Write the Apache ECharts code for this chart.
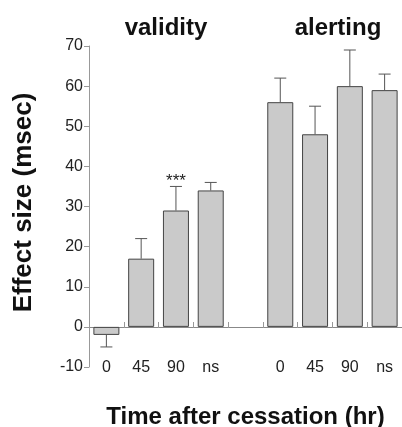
<!DOCTYPE html>
<html>
<head>
<meta charset="utf-8">
<script src="https://cdn.jsdelivr.net/npm/echarts@6/dist/echarts.min.js"></script>
<style>
  html, body { margin: 0; padding: 0; background: #fff; }
  #chart { width: 402px; height: 427px; }
</style>
</head>
<body>
<div id="chart"></div>
<script>
// slots: validity group, empty gap, alerting group
const categories = ['0', '45', '90', 'ns', '', '0', '45', '90', 'ns'];
const effect = [-2, 17, 29, 34, null, 56, 48, 60, 59];
const errorEnd = [-5, 22, 35, 36, null, 62, 55, 69, 63];
const marks = ['', '', '***', '', '', '', '', '', ''];
const yTicks = { min: -10, max: 70, step: 10 };

const chart = echarts.init(document.getElementById('chart'));
const font = 'Liberation Sans, Arial, sans-serif';

chart.setOption({
  animation: false,
  grid: { left: 89, right: 0, top: 46, bottom: 60, outerBoundsMode: 'none' },
  title: [
    { text: 'validity', left: 161, top: 11, textAlign: 'center',
      textStyle: { fontFamily: font, fontSize: 24, fontWeight: 'bold', color: '#111' } },
    { text: 'alerting', left: 333, top: 11, textAlign: 'center',
      textStyle: { fontFamily: font, fontSize: 24, fontWeight: 'bold', color: '#111' } }
  ],
  xAxis: [
    {
      type: 'category',
      data: categories,
      name: 'Time after cessation (hr)',
      nameLocation: 'middle',
      nameGap: 38,
      nameTextStyle: { fontFamily: font, fontSize: 24, fontWeight: 'bold', color: '#111' },
      axisLine: { onZero: true, lineStyle: { color: '#888', width: 1 } },
      axisTick: { show: false },
      axisLabel: { margin: -7, fontFamily: font, fontSize: 16, color: '#222' }
    },
    {
      // small upward ticks sitting on the zero line
      type: 'category',
      data: categories,
      position: 'bottom',
      offset: -39,
      axisLine: { show: false, onZero: false },
      axisTick: { show: true, inside: true, length: 6, lineStyle: { color: '#999', width: 1 } },
      axisLabel: { show: false }
    }
  ],
  yAxis: {
    type: 'value',
    min: yTicks.min,
    max: yTicks.max,
    interval: yTicks.step,
    name: 'Effect size (msec)',
    nameLocation: 'middle',
    nameGap: 52,
    nameTextStyle: { fontFamily: font, fontSize: 26, fontWeight: 'bold', color: '#111', padding: [0, 0, 0, 8] },
    axisLine: { show: true, lineStyle: { color: '#999', width: 1 } },
    axisTick: { show: true, length: 5, lineStyle: { color: '#999' } },
    axisLabel: { margin: 6, fontFamily: font, fontSize: 16, color: '#222' },
    splitLine: { show: false }
  },
  series: [
    {
      type: 'bar',
      data: effect,
      barWidth: 26,
      itemStyle: { color: '#cacaca', borderColor: '#444', borderWidth: 1 },
      label: {
        show: true,
        position: 'top',
        formatter: p => marks[p.dataIndex],
        fontFamily: font, fontSize: 17, color: '#222',
        offset: [0, -16]
      }
    },
    {
      type: 'custom',
      data: categories.map((c, i) => [i, effect[i], errorEnd[i]]),
      renderItem: (params, api) => {
        if (api.value(1) == null || isNaN(api.value(1))) return;
        const base = api.coord([api.value(0), api.value(1)]);
        const tip = api.coord([api.value(0), api.value(2)]);
        const half = 6;
        const style = { stroke: '#555', lineWidth: 1 };
        return {
          type: 'group',
          children: [
            { type: 'line', shape: { x1: base[0], y1: base[1], x2: tip[0], y2: tip[1] }, style },
            { type: 'line', shape: { x1: tip[0] - half, y1: tip[1], x2: tip[0] + half, y2: tip[1] }, style }
          ]
        };
      },
      z: 1
    }
  ]
});
</script>
</body>
</html>
